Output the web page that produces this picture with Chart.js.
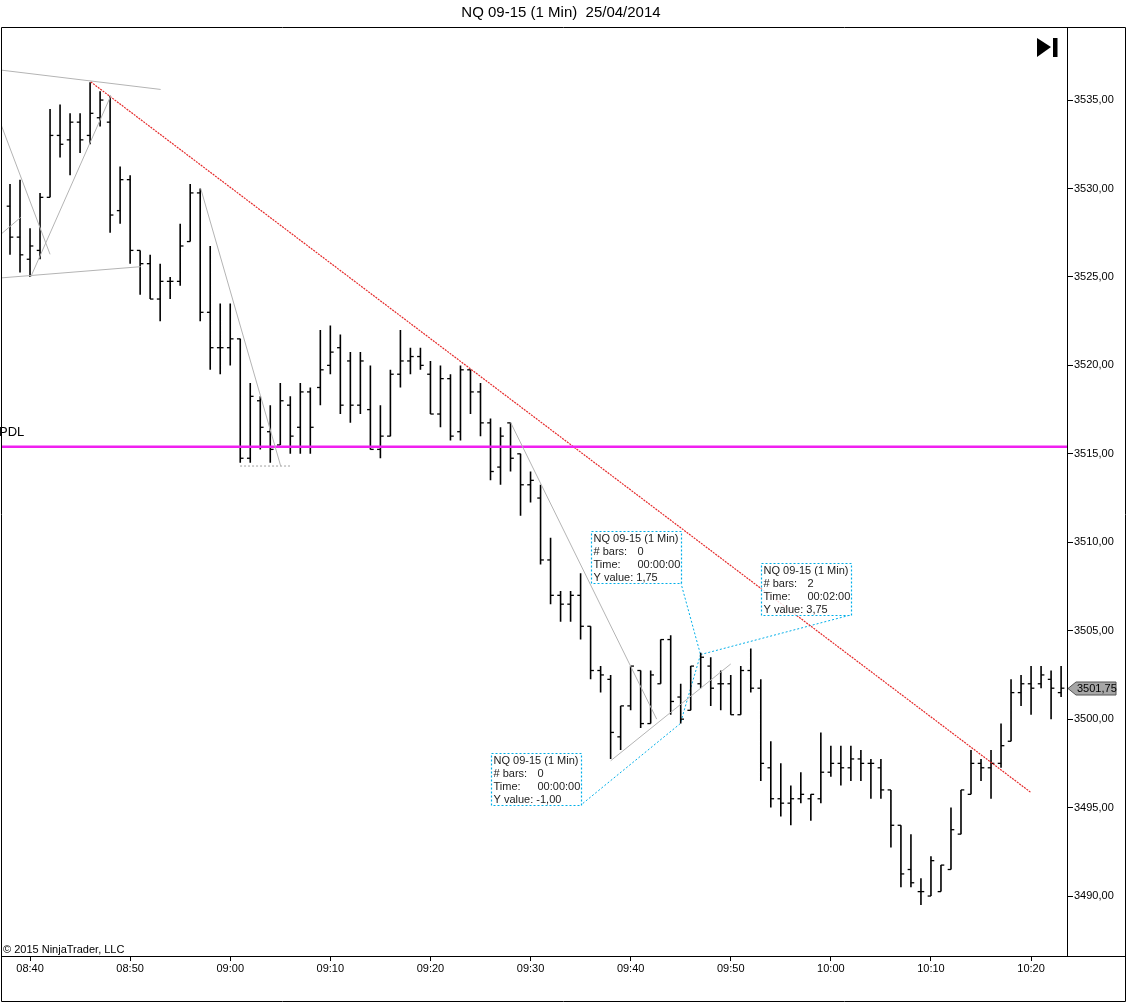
<!DOCTYPE html>
<html>
<head>
<meta charset="utf-8">
<script src="https://cdn.jsdelivr.net/npm/chart.js@4.4.1/dist/chart.umd.min.js"></script>
<style>
  html, body { margin: 0; padding: 0; background: #fff; }
  canvas { display: block; }
</style>
</head>
<body>
<canvas id="chartNQ" width="1128" height="1002"></canvas>
<script>
// 1 minute bars, starting 08:38
const startTime = '08:38';
const opens = [3529, 3527.25, 3526, 3526.5, 3529.5, 3533, 3532.75, 3533.75, 3533, 3534,
  3533.75, 3528.75, 3530.5, 3526.5, 3525.75, 3523.75, 3524.75, 3524.75, 3527, 3529.75,
  3523, 3521, 3521, 3521.5, 3514.75, 3518, 3516.25, 3515.5, 3517.75, 3516.5,
  3518.5, 3518.75, 3520, 3521, 3520.25, 3517.75, 3517.5, 3515.25, 3516, 3519.5,
  3520.25, 3520.5, 3519.5, 3517.25, 3519.25, 3516.25, 3519.75, 3518.5, 3516.75, 3514.25,
  3516.75, 3515, 3513.25, 3512.5, 3509, 3507, 3506.5, 3507, 3505.25, 3502.75,
  3502.25, 3499, 3500.75, 3502.75, 3499.75, 3502, 3504.5, 3501.25, 3500.5, 3502,
  3503, 3502, 3502, 3500.25, 3502.75, 3501.75, 3497.25, 3495.5, 3495.25, 3495.5,
  3495.5, 3495.5, 3497, 3497.5, 3497.25, 3497.75, 3497.5, 3497.25, 3496, 3494,
  3491.5, 3490.25, 3490, 3490.25, 3491.5, 3493.5, 3495.75, 3497.5, 3497.25, 3497.5,
  3498.75, 3501.5, 3502, 3502, 3502.25, 3501.5];
const highs = [3530.25, 3530.5, 3527.75, 3529.75, 3534.5, 3534.75, 3534.25, 3534.25, 3536, 3535.5,
  3535.25, 3531.25, 3530.75, 3526.5, 3526.25, 3525.75, 3525, 3528, 3530.25, 3530,
  3526.75, 3523.5, 3523.5, 3521.5, 3519, 3518.25, 3517.75, 3519, 3518.25, 3519,
  3518.75, 3522, 3522.25, 3521.75, 3520.75, 3520.75, 3520, 3517.75, 3519.75, 3522,
  3521, 3521, 3520.25, 3520, 3519.5, 3520, 3519.75, 3519, 3517, 3516.5,
  3516.75, 3515, 3514, 3513.25, 3510.25, 3507.25, 3507.25, 3508.25, 3505.25, 3503,
  3502.5, 3500.75, 3503, 3502.75, 3502.75, 3504.5, 3504.75, 3502, 3503, 3503.75,
  3503.5, 3502.75, 3502.5, 3503, 3504, 3502.25, 3498.75, 3497.5, 3496.25, 3497,
  3495.75, 3499.25, 3498.5, 3498.5, 3498.5, 3498.25, 3497.75, 3497.75, 3496, 3494,
  3493.5, 3491, 3492.25, 3491.75, 3495, 3496, 3498.25, 3497.75, 3498.25, 3499.75,
  3502.25, 3502.5, 3503, 3503, 3502.75, 3503];
const lows = [3526.25, 3525.25, 3525, 3526, 3529.5, 3531.75, 3530.75, 3532, 3532.5, 3533.5,
  3527.5, 3528, 3525.75, 3524, 3523.75, 3522.5, 3523.75, 3524.5, 3527, 3522.5,
  3519.75, 3519.5, 3520, 3514.5, 3514.5, 3515.25, 3514.5, 3515.5, 3515, 3515,
  3515, 3517.75, 3519.5, 3517.25, 3516.75, 3517.25, 3515.25, 3514.75, 3516, 3518.75,
  3519.5, 3519.75, 3517.25, 3516.5, 3515.75, 3515.75, 3517.25, 3516, 3513.5, 3513.25,
  3514, 3511.5, 3512.25, 3508.75, 3506.5, 3505.5, 3505.5, 3504.5, 3502.25, 3501.5,
  3497.75, 3498.25, 3500.5, 3499.5, 3499.75, 3502, 3500.25, 3499.75, 3500.5, 3501.75,
  3500.75, 3500.5, 3500.25, 3500.25, 3501.5, 3496.5, 3495, 3494.5, 3494, 3495.25,
  3494.25, 3495.25, 3496.75, 3496.25, 3496.5, 3496.5, 3495.5, 3495.5, 3492.75, 3490.5,
  3490.5, 3489.5, 3490, 3490.25, 3491.5, 3493.5, 3495.75, 3496.5, 3495.5, 3497.25,
  3498.75, 3500.75, 3500.25, 3501.75, 3500, 3501.25];
const closes = [3527.25, 3526.25, 3526.75, 3529.5, 3533, 3532.5, 3533.75, 3532.75, 3534.25, 3535,
  3528.5, 3530.5, 3526.5, 3525.75, 3523.75, 3524.75, 3524.75, 3526.75, 3529.75, 3523,
  3521, 3521, 3521.5, 3514.75, 3518.25, 3516.5, 3515.25, 3518, 3516, 3518.5,
  3516.5, 3519.75, 3520.75, 3517.75, 3517.75, 3520.25, 3515.25, 3516, 3519.5, 3520.25,
  3520.5, 3520, 3517.25, 3519.25, 3516, 3519.75, 3518.5, 3516.75, 3514, 3516,
  3514.75, 3513.25, 3513.5, 3509, 3507, 3506.5, 3507, 3505.25, 3502.75, 3502.5,
  3499.25, 3500.75, 3503, 3499.75, 3502.5, 3504.5, 3501, 3500, 3503, 3503.5,
  3501.75, 3502, 3500.25, 3502.75, 3501.75, 3497.5, 3495.5, 3495.25, 3495.5, 3495.75,
  3495.75, 3497, 3497.5, 3497.25, 3497.75, 3497.5, 3497.5, 3496, 3494, 3491.25,
  3490.75, 3490.25, 3492, 3491.75, 3493.75, 3496, 3497.5, 3497.25, 3497.5, 3498.5,
  3501.5, 3502, 3501.75, 3502.5, 3501.75, 3501.75];

const xTickLabels = ['08:40', '08:50', '09:00', '09:10', '09:20', '09:30', '09:40', '09:50', '10:00', '10:10', '10:20'];
const yTickValues = [3490, 3495, 3500, 3505, 3510, 3515, 3520, 3525, 3530, 3535];

// drawings, in [bar index, price]
const pdlLevel = 3515.4;
const trendLine = [[8.06, 3536.03], [101.97, 3495.86]];
const grayLines = [
  [[-1, 3536.7], [15.05, 3535.6]],
  [[-1, 3533.77], [4.0, 3526.28]],
  [[-1, 3527.37], [1.07, 3528.37]],
  [[2.07, 3525.0], [10.06, 3535.23]],
  [[-1, 3524.94], [13.06, 3525.58]],
  [[19.05, 3530.0], [27.04, 3514.31]],
  [[50.02, 3516.76], [64.6, 3500.0]],
  [[60.01, 3497.65], [72.0, 3503.12]]
];
const grayDashed = [[[22.98, 3514.31], [27.97, 3514.31]]];
const rulerLines = [
  [[67.0, 3507.74], [68.98, 3503.65]],
  [[68.98, 3503.65], [66.96, 3499.75]],
  [[68.98, 3503.65], [83.99, 3505.89]],
  [[66.96, 3499.75], [57.04, 3495.15]],
  [[68.98, 3503.65], [68.98, 3501.75]]
];
const rulerBoxes = [
  { at: [58.05, 3510.65], bars: '0', time: '00:00:00', yval: '1,75' },
  { at: [75.0, 3508.84], bars: '2', time: '00:02:00', yval: '3,75' },
  { at: [48.05, 3498.09], bars: '0', time: '00:00:00', yval: '-1,00' }
];

function toMin(t) {
  const p = t.split(':').map(Number);
  return p[0] * 60 + p[1];
}
const t0 = toMin(startTime);
const xTickPos = xTickLabels.map(t => toMin(t) - t0);
const fmtPrice = v => v.toFixed(2).replace('.', ',');

const wicks = [];
highs.forEach((h, i) => {
  wicks.push({ x: i, y: lows[i] }, { x: i, y: h }, { x: i, y: null });
});
const openTicks = opens.map((o, i) => ({ x: i - 0.16, y: o }));
const closeTicks = closes.map((c, i) => ({ x: i + 0.16, y: c }));
const pts = seg => seg.map(p => ({ x: p[0], y: p[1] }));

function seg(data, color, width, dash) {
  return {
    type: 'line', data: pts(data), borderColor: color, borderWidth: width,
    borderDash: dash || [], pointRadius: 0, fill: false, tension: 0
  };
}

const CYAN = '#00aee8';
const datasets = [];
grayLines.forEach(l => datasets.push(seg(l, '#b4b4b4', 1)));
grayDashed.forEach(l => datasets.push(seg(l, '#a0a0a0', 1, [2, 2])));
datasets.push(seg([[-1, pdlLevel], [106, pdlLevel]], '#f020f0', 2.5));
datasets.push(seg(trendLine, '#e52a2a', 1.2, [2, 1]));
datasets.push({
  type: 'line', data: wicks, borderColor: '#000', borderWidth: 1.6,
  pointRadius: 0, spanGaps: false, tension: 0
});
datasets.push({
  type: 'line', data: openTicks, showLine: false, pointStyle: 'line',
  pointRadius: 1.7, pointBorderWidth: 1.3, pointBorderColor: '#000'
});
datasets.push({
  type: 'line', data: closeTicks, showLine: false, pointStyle: 'line',
  pointRadius: 1.7, pointBorderWidth: 1.3, pointBorderColor: '#000'
});
rulerLines.forEach(l => datasets.push(seg(l, CYAN, 1, [2, 2])));

const FONT = '"Liberation Sans", Arial, sans-serif';

const decorations = {
  id: 'decorations',
  afterDraw(chart) {
    const c = chart.ctx, a = chart.chartArea;
    const xs = chart.scales.x, ys = chart.scales.y;
    c.save();
    // frame
    c.strokeStyle = '#000';
    c.lineWidth = 1;
    c.beginPath();
    c.moveTo(1.5, a.top + 0.5); c.lineTo(1125.5, a.top + 0.5);
    c.lineTo(1125.5, 1001.5); c.lineTo(1.5, 1001.5); c.lineTo(1.5, a.top + 0.5);
    c.moveTo(1.5, a.bottom + 0.5); c.lineTo(1125.5, a.bottom + 0.5);
    c.stroke();

    // title
    c.fillStyle = '#000';
    c.font = '15px ' + FONT;
    c.textAlign = 'center';
    c.textBaseline = 'middle';
    c.fillText('NQ 09-15 (1 Min)  25/04/2014', 561, 13);

    // go-to-end icon
    c.beginPath();
    c.moveTo(1037, 38); c.lineTo(1051, 47); c.lineTo(1037, 57); c.closePath();
    c.fill();
    c.fillRect(1053, 38, 4.5, 19);

    // PDL label
    c.font = '13px ' + FONT;
    c.textAlign = 'left';
    c.textBaseline = 'alphabetic';
    c.fillText('PDL', -1, ys.getPixelForValue(pdlLevel) - 11);

    // copyright
    c.font = '11px ' + FONT;
    c.fillText('\u00a9 2015 NinjaTrader, LLC', 3, a.bottom - 3);

    // ruler boxes
    rulerBoxes.forEach(b => {
      const bx = Math.round(xs.getPixelForValue(b.at[0])) + 0.5;
      const by = Math.round(ys.getPixelForValue(b.at[1])) + 0.5;
      c.fillStyle = 'rgba(255,255,255,0.85)';
      c.fillRect(bx, by, 90, 52);
      c.lineWidth = 1.2;
      c.setLineDash([2, 2]);
      c.strokeStyle = CYAN;
      c.strokeRect(bx, by, 90, 52);
      c.setLineDash([]);
      c.lineWidth = 1;
      c.fillStyle = '#222';
      c.font = '11px ' + FONT;
      c.textBaseline = 'middle';
      c.fillText('NQ 09-15 (1 Min)', bx + 2, by + 7);
      c.fillText('# bars:', bx + 2, by + 20);
      c.fillText(b.bars, bx + 46, by + 20);
      c.fillText('Time:', bx + 2, by + 33);
      c.fillText(b.time, bx + 46, by + 33);
      c.fillText('Y value: ' + b.yval, bx + 2, by + 46);
    });

    // last price marker
    const last = closes[closes.length - 1];
    const py = Math.round(ys.getPixelForValue(last)) + 0.5;
    const px = a.right + 1;
    c.beginPath();
    c.moveTo(px, py);
    c.lineTo(px + 8, py - 6.5);
    c.lineTo(px + 48, py - 6.5);
    c.lineTo(px + 48, py + 6.5);
    c.lineTo(px + 8, py + 6.5);
    c.closePath();
    c.fillStyle = '#a6a6a6';
    c.fill();
    c.strokeStyle = '#555';
    c.stroke();
    c.fillStyle = '#000';
    c.font = '11px ' + FONT;
    c.textBaseline = 'middle';
    c.fillText(fmtPrice(last), px + 9, py + 0.5);
    c.restore();
  }
};

new Chart(document.getElementById('chartNQ'), {
  type: 'line',
  data: { datasets: datasets },
  options: {
    responsive: false,
    animation: false,
    events: [],
    layout: { autoPadding: false, padding: { top: 27, left: 1, right: 0, bottom: 0 } },
    plugins: { legend: { display: false }, tooltip: { enabled: false } },
    scales: {
      x: {
        type: 'linear',
        min: -0.9,
        max: 105.59,
        afterFit(scale) {
          scale.height = 46;
          scale.paddingLeft = 0;
          scale.paddingRight = 0;
        },
        afterBuildTicks(scale) { scale.ticks = xTickPos.map(v => ({ value: v })); },
        grid: { drawOnChartArea: false, drawTicks: true, tickLength: 5, color: '#000' },
        border: { display: true, color: '#000' },
        ticks: {
          padding: 1,
          maxRotation: 0,
          autoSkip: false,
          color: '#000',
          font: { family: FONT, size: 11 },
          callback: v => xTickLabels[xTickPos.indexOf(v)] || ''
        }
      },
      y: {
        type: 'linear',
        position: 'right',
        min: 3486.61,
        max: 3539.13,
        afterFit(scale) {
          scale.width = 61;
          scale.paddingTop = 0;
          scale.paddingBottom = 0;
        },
        afterBuildTicks(scale) { scale.ticks = yTickValues.map(v => ({ value: v })); },
        grid: { drawOnChartArea: false, drawTicks: true, tickLength: 6, color: '#000' },
        border: { display: true, color: '#000' },
        ticks: {
          padding: 1,
          color: '#000',
          font: { family: FONT, size: 11 },
          callback: v => fmtPrice(v)
        }
      }
    }
  },
  plugins: [decorations]
});
</script>
</body>
</html>
